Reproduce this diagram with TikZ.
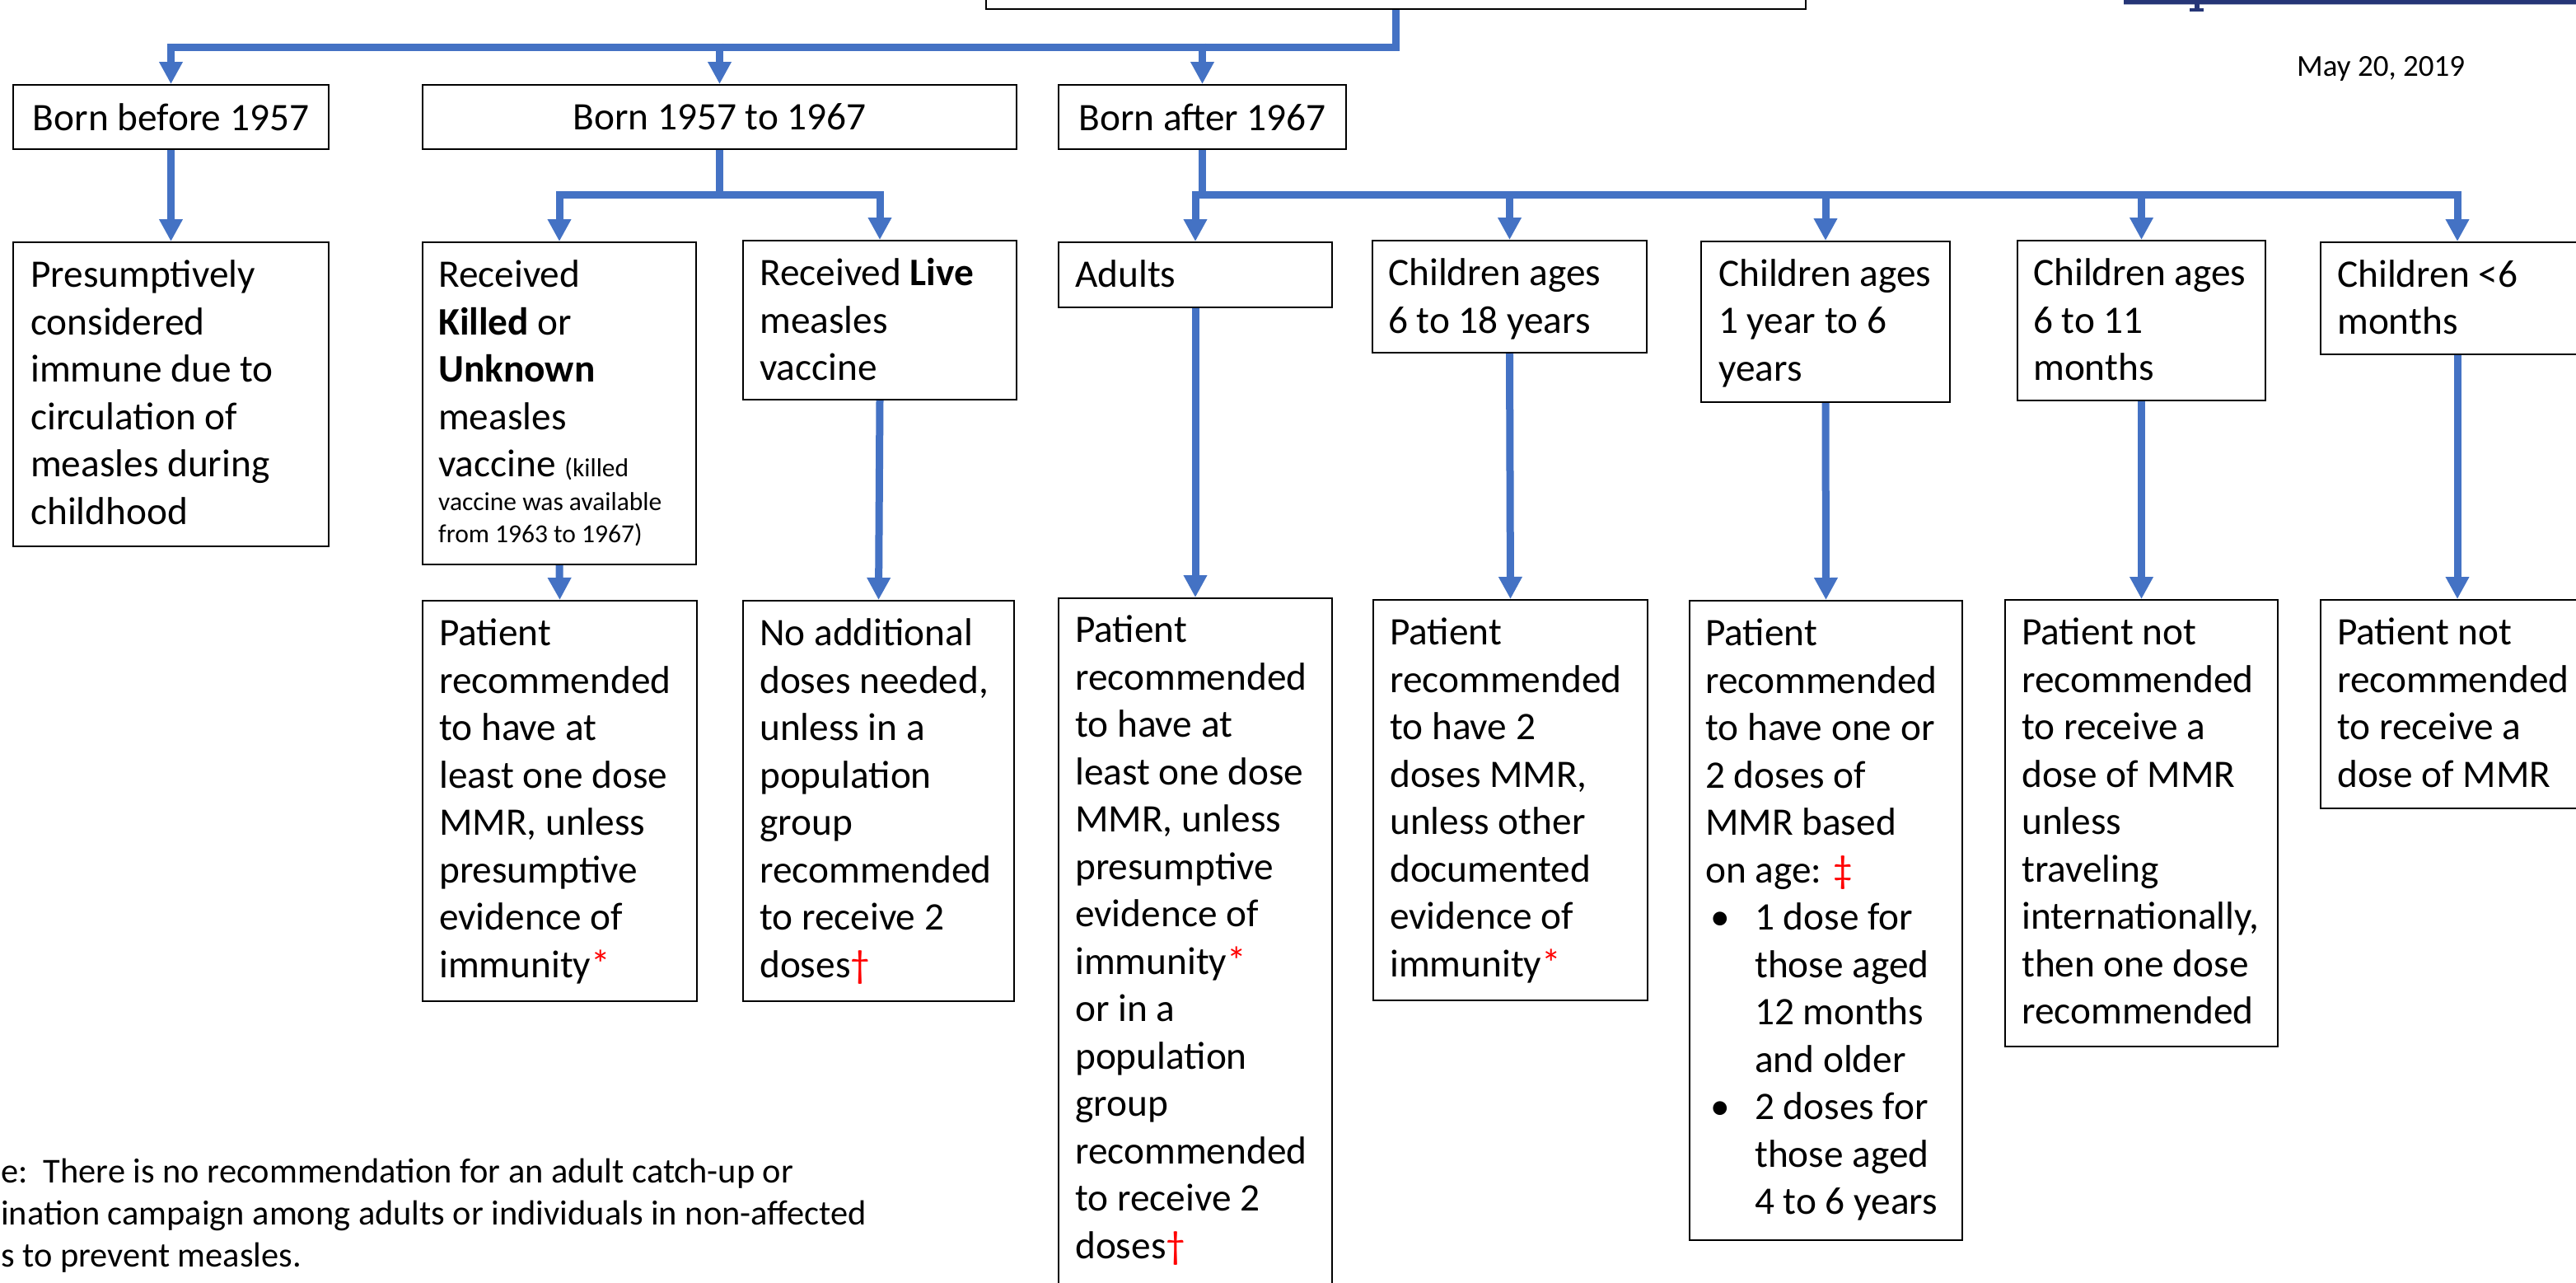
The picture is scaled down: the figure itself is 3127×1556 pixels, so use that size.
\documentclass[tikz,border=0pt]{standalone}
\usepackage{fontspec}
\setmainfont{Carlito}
\usetikzlibrary{arrows.meta}
\definecolor{cblue}{HTML}{4472C4}
\definecolor{navy}{HTML}{263677}
\definecolor{mred}{HTML}{FF0000}
\newcommand{\mainsz}{\fontsize{47.3pt}{57.5pt}\selectfont}
\newcommand{\smallsz}{\fontsize{31.5pt}{38.5pt}\selectfont}
\newcommand{\notesz}{\fontsize{42.4pt}{51pt}\selectfont}
\newcommand{\datesz}{\fontsize{37pt}{45pt}\selectfont}
\newcommand{\rd}[1]{\textcolor{mred}{#1}}
\newcommand{\bul}{\hspace*{6pt}\makebox[54pt][l]{•}}
\newcommand{\ind}{\hspace*{60pt}}
\begin{document}
\begin{tikzpicture}[x=1pt,y=-1pt,
  box/.style={draw=black, line width=2pt, inner sep=0pt, anchor=north west, font=\mainsz},
  txt/.style={anchor=base west, inner sep=0pt, text width=420pt, align=flush left, font=\mainsz},
  conn/.style={draw=cblue, line width=9pt},
  arr/.style={conn, -{Triangle[width=27pt,length=27pt]}}]
\fill[white] (0,0) rectangle (3127,1556);
\useasboundingbox (0,0) rectangle (3127,1556);

% top-right cut-off title bar
\fill[navy] (2578,0) rectangle (3127,4.5);
\fill[navy!35] (2578,4.5) rectangle (3127,6);
\fill[navy] (2664,0) rectangle (2670,12);
\fill[navy] (2658,10) rectangle (2675,13.5);
\node[anchor=base west, inner sep=0pt, font=\datesz] (date) at (2788,92.7) {May 20, 2019};

% top box (cut off)
\node[draw=black, line width=2pt, inner sep=0pt, anchor=south, minimum width=995pt, minimum height=80pt] (T) at (1694.5,12) {};

% row 1
\node[box, minimum width=383pt, minimum height=78pt] (B1) at (15,102) {Born before 1957};
\node[box, minimum width=721pt, minimum height=78pt] (B2) at (512,102) {Born 1957 to 1967};
\node[box, minimum width=349pt, minimum height=78pt] (B3) at (1284,102) {Born after 1967};

% row 2
\node[box, minimum width=383pt, minimum height=369pt] (P) at (15,293) {};
\node[box, minimum width=332pt, minimum height=391pt] (K) at (512,293) {};
\node[box, minimum width=332pt, minimum height=193pt] (L) at (901,291) {};
\node[box, minimum width=332pt, minimum height=79pt] (A) at (1284,293) {};
\node[box, minimum width=333pt, minimum height=136pt] (C1) at (1665,291) {};
\node[box, minimum width=302pt, minimum height=195pt] (C2) at (2064,292) {};
\node[box, minimum width=301pt, minimum height=194pt] (C3) at (2448,291) {};
\node[box, minimum width=332pt, minimum height=136pt] (C4) at (2816,293) {};

% row 3
\node[box, minimum width=333pt, minimum height=486pt] (R1) at (512,728) {};
\node[box, minimum width=329pt, minimum height=486pt] (R2) at (901,728) {};
\node[box, minimum width=332pt, minimum height=900pt] (R3) at (1284,725) {};
\node[box, minimum width=333pt, minimum height=486pt] (R4) at (1666,727) {};
\node[box, minimum width=331pt, minimum height=776pt] (R5) at (2050,728) {};
\node[box, minimum width=331pt, minimum height=542pt] (R6) at (2433,727) {};
\node[box, minimum width=332pt, minimum height=253pt] (R7) at (2816,727) {};

% texts row 2
\node[txt] (Pt) at ([shift={(22,55.5)}]P.north west) {Presumptively\\ considered\\ immune due to\\ circulation of\\ measles during\\ childhood};
\node[txt] (Kt) at ([shift={(20,55.5)}]K.north west) {Received\\ \textbf{Killed} or\\ \textbf{Unknown}\\ measles\\ vaccine {\smallsz (killed}\\[-16.5pt] {\smallsz vaccine was available}\\[-19pt] {\smallsz from 1963 to 1967)}};
\node[txt] (Lt) at ([shift={(21,55.5)}]L.north west) {Received \textbf{Live}\\ measles\\ vaccine};
\node[txt] (At) at ([shift={(21,55.5)}]A.north west) {Adults};
\node[txt] (C1t) at ([shift={(20,55.5)}]C1.north west) {Children ages\\ 6 to 18 years};
\node[txt] (C2t) at ([shift={(22,55)}]C2.north west) {Children ages\\ 1 year to 6\\ years};
\node[txt] (C3t) at ([shift={(20,55.5)}]C3.north west) {Children ages\\ 6 to 11\\ months};
\node[txt] (C4t) at ([shift={(21,55)}]C4.north west) {Children <6\\ months};

% texts row 3
\node[txt] (R1t) at ([shift={(21,55.5)}]R1.north west) {Patient\\ recommended\\ to have at\\ least one dose\\ MMR, unless\\ presumptive\\ evidence of\\ immunity\rd{*}};
\node[txt] (R2t) at ([shift={(21,55.5)}]R2.north west) {No additional\\ doses needed,\\ unless in a\\ population\\ group\\ recommended\\ to receive 2\\ doses\rd{†}};
\node[txt] (R3t) at ([shift={(21,54.5)}]R3.north west) {Patient\\ recommended\\ to have at\\ least one dose\\ MMR, unless\\ presumptive\\ evidence of\\ immunity\rd{*}\\ or in a\\ population\\ group\\ recommended\\ to receive 2\\ doses\rd{†}};
\node[txt] (R4t) at ([shift={(21,55.5)}]R4.north west) {Patient\\ recommended\\ to have 2\\ doses MMR,\\ unless other\\ documented\\ evidence of\\ immunity\rd{*}};
\node[txt] (R5t) at ([shift={(20,55.5)}]R5.north west) {Patient\\ recommended\\ to have one or\\ 2 doses of\\ MMR based\\ on age: \rd{‡}\\ \bul 1 dose for\\ \ind those aged\\ \ind 12 months\\ \ind and older\\ \bul 2 doses for\\ \ind those aged\\ \ind 4 to 6 years};
\node[txt] (R6t) at ([shift={(21,55.5)}]R6.north west) {Patient not\\ recommended\\ to receive a\\ dose of MMR\\ unless\\ traveling\\ internationally,\\ then one dose\\ recommended};
\node[txt] (R7t) at ([shift={(21,55.5)}]R7.north west) {Patient not\\ recommended\\ to receive a\\ dose of MMR};

% note (cut off at left)
\node[anchor=base west, inner sep=0pt, text width=1200pt, align=flush left, font=\notesz] (note) at (1,1435) {e:\ \ There is no recommendation for an adult catch-up or\\ ination campaign among adults or individuals in non-affected\\ s to prevent measles.};

% connectors: top level
\path (B1.north) ++(0,-45) coordinate (tb1);
\coordinate (tb2) at (B2.north |- tb1);
\coordinate (tb3) at (B3.north |- tb1);
\draw[arr] (T.south) |- (tb1) -- (B1.north);
\draw[arr] ([yshift=4.5pt]tb2) -- (B2.north);
\draw[arr] ([yshift=4.5pt]tb3) -- (B3.north);

% born before
\draw[arr] (B1.south) -- (P.north);

% born 1957 to 1967
\path (K.north) ++(0,-56.5) coordinate (kb);
\coordinate (lb) at (L.north |- kb);
\draw[arr] (B2.south) |- (kb) -- (K.north);
\draw[arr] (B2.south) |- (lb) -- (L.north);
\draw[arr] (K.south) -- (R1.north);
\draw[arr] (L.south) -- (R2.north);

% born after 1967
\path (A.north) ++(0,-56.5) coordinate (ab);
\coordinate (b3b) at (B3.south |- ab);
\coordinate (c1b) at (C1.north |- ab);
\coordinate (c2b) at (C2.north |- ab);
\coordinate (c3b) at (C3.north |- ab);
\coordinate (c4b) at (C4.north |- ab);
\draw[conn] (B3.south) -- ([yshift=-4.5pt]b3b);
\draw[arr] (ab) -- (c4b) -- (C4.north);
\draw[arr] ([yshift=4.5pt]ab) -- (A.north);
\draw[arr] ([yshift=4.5pt]c1b) -- (C1.north);
\draw[arr] ([yshift=4.5pt]c2b) -- (C2.north);
\draw[arr] ([yshift=4.5pt]c3b) -- (C3.north);
\draw[arr] (A.south) -- (R3.north);
\draw[arr] (C1.south) -- (R4.north);
\draw[arr] (C2.south) -- (R5.north);
\draw[arr] (C3.south) -- (R6.north);
\draw[arr] (C4.south) -- (R7.north);
\end{tikzpicture}
\end{document}
